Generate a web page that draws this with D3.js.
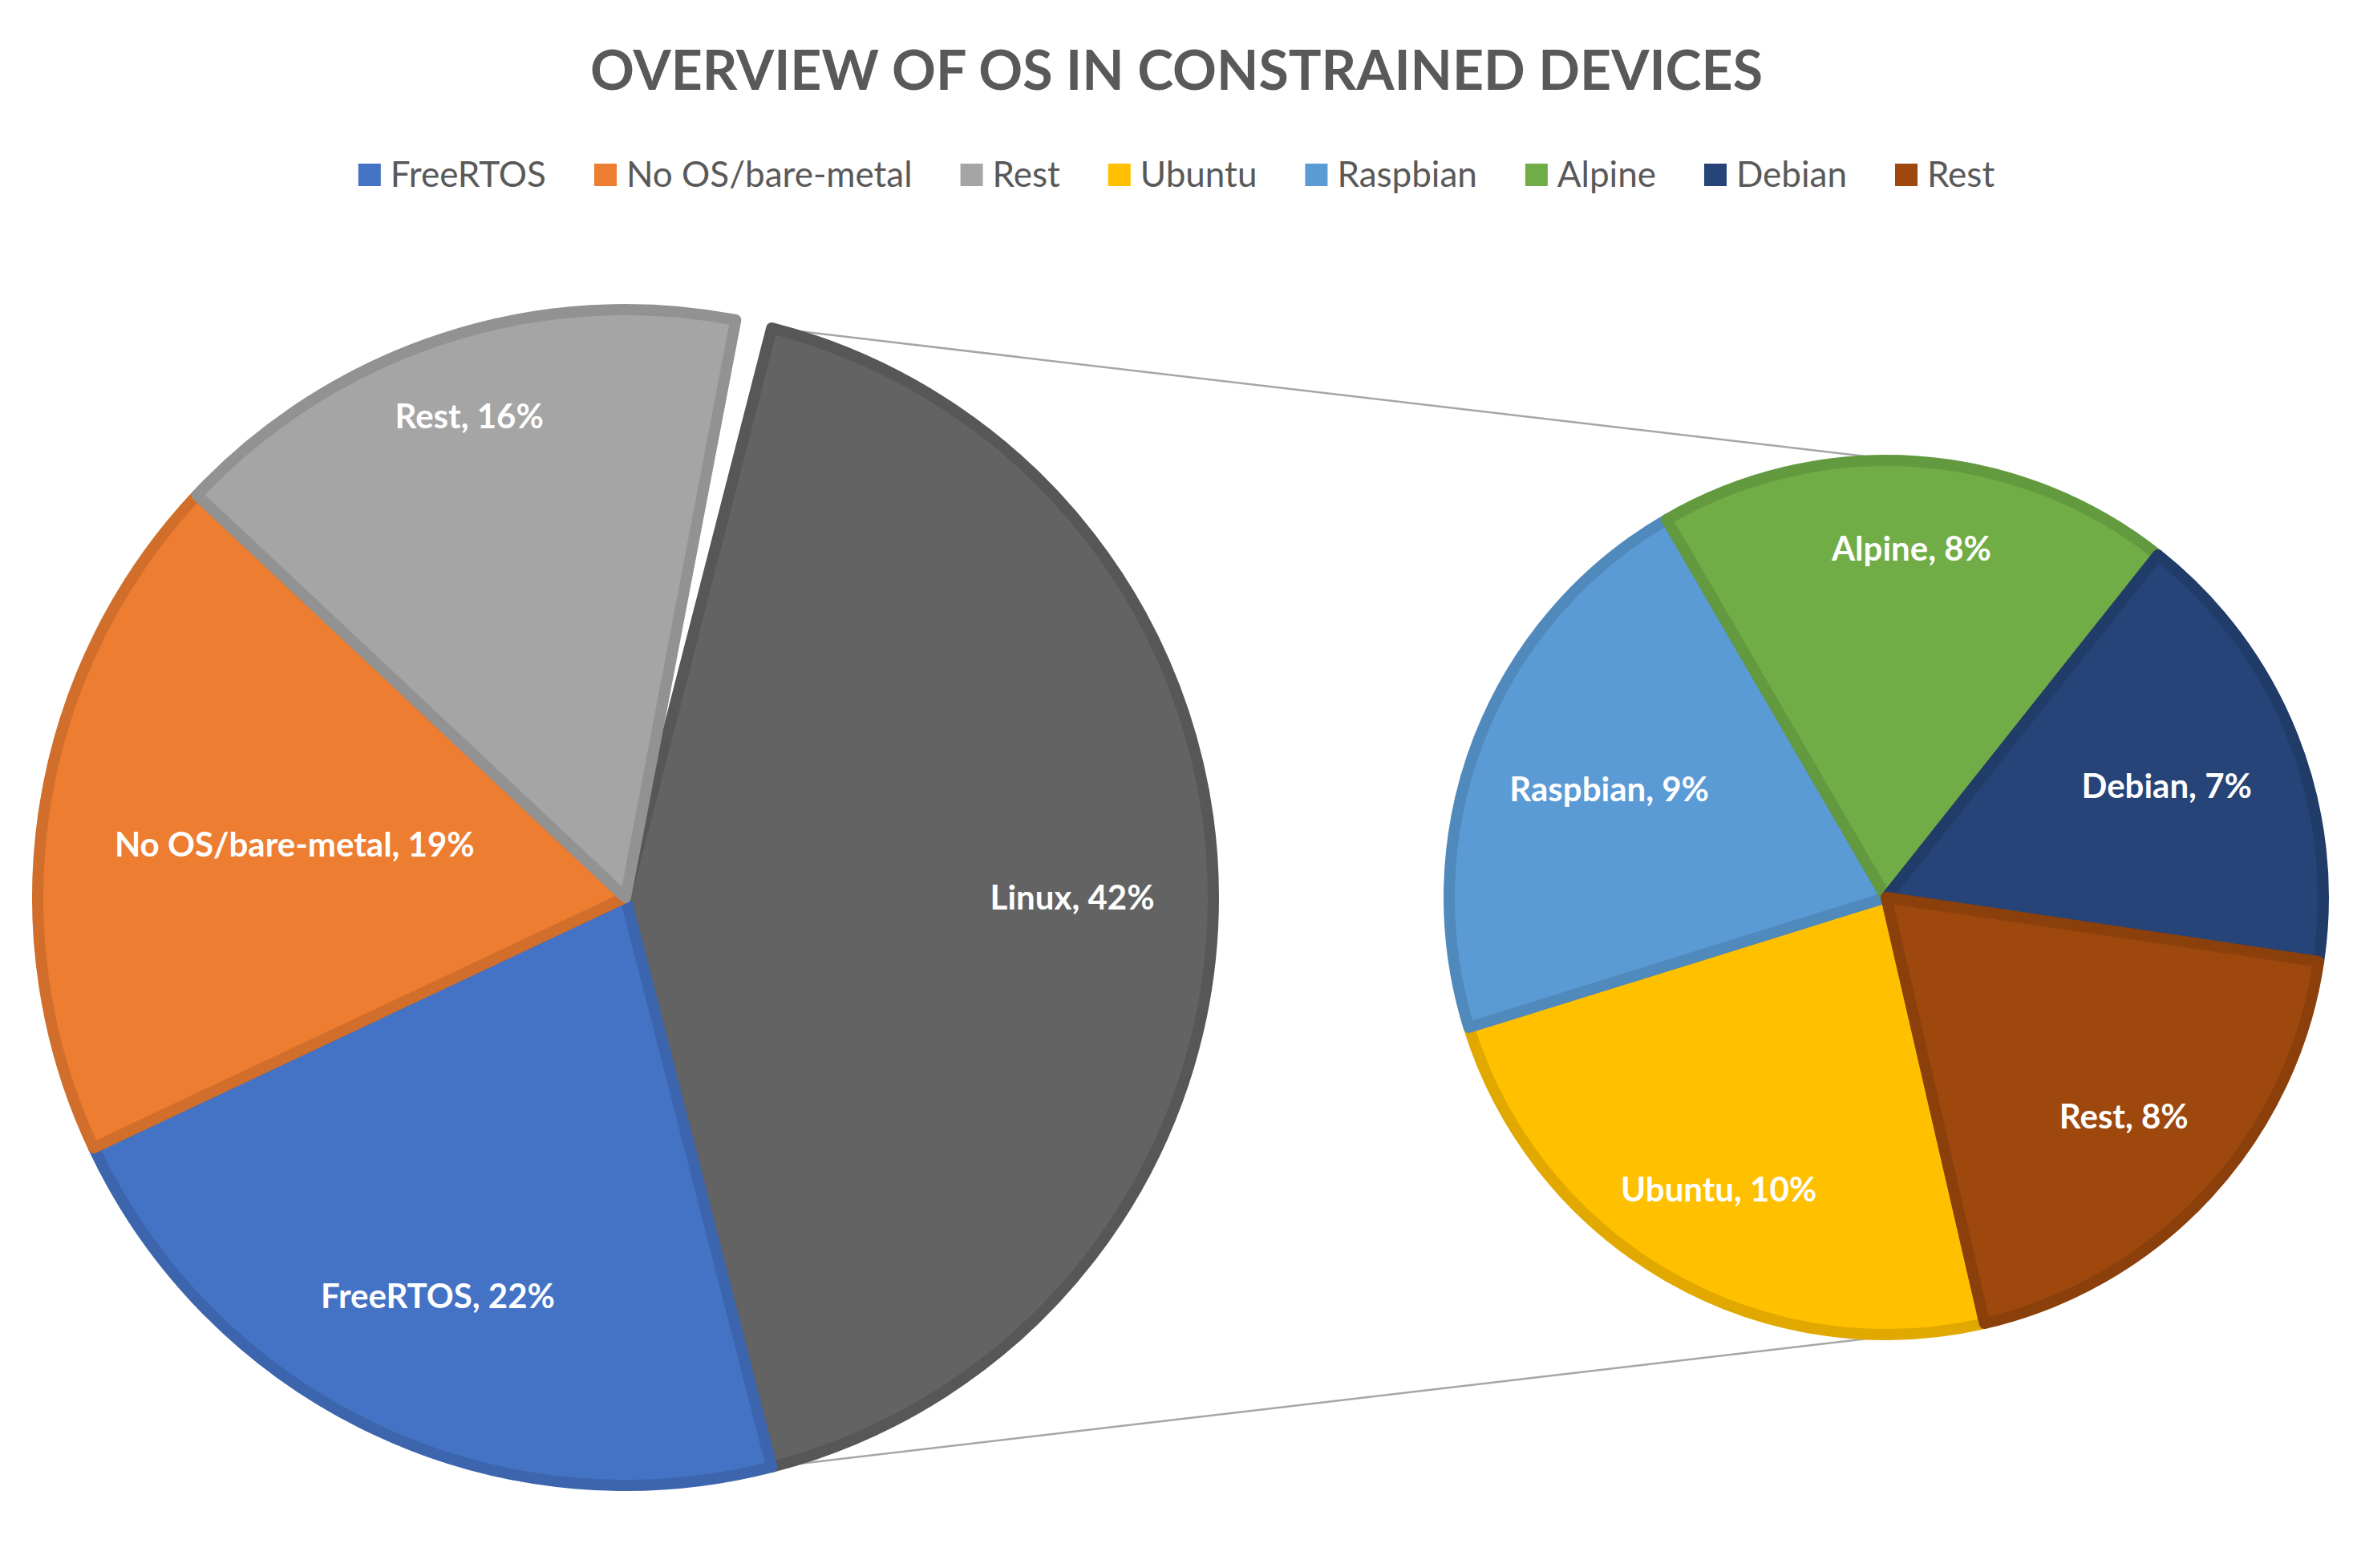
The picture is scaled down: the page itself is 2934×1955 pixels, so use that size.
<!DOCTYPE html>
<html>
<head>
<meta charset="utf-8">
<script src="https://cdn.jsdelivr.net/npm/d3@7"></script>
<style>
  body { margin: 0; background: #fff; }
  text { font-family: Lato, "Open Sans", sans-serif; }
</style>
</head>
<body>
<svg id="chart" width="2934" height="1955"></svg>
<script>
// main pie
var mainNames = ["Linux", "FreeRTOS", "No OS/bare-metal", "Rest"];
var mainValues = [42, 22, 19, 16];
var mainColors = ["#636363", "#4472C4", "#ED7D31", "#A5A5A5"];
// secondary pie (breakdown of Linux)
var subNames = ["Ubuntu", "Raspbian", "Alpine", "Debian", "Rest"];
var subValues = [10, 9, 8, 7, 8];
var subColors = ["#FFC000", "#5B9BD5", "#70AD47", "#264478", "#9E480E"];
// legend order as in the picture
var legendNames = ["FreeRTOS", "No OS/bare-metal", "Rest", "Ubuntu", "Raspbian", "Alpine", "Debian", "Rest"];
var legendColors = ["#4472C4", "#ED7D31", "#A5A5A5", "#FFC000", "#5B9BD5", "#70AD47", "#264478", "#9E480E"];

var svg = d3.select("#chart");
var deg = Math.PI / 180;

svg.append("text")
    .attr("x", 1467).attr("y", 112)
    .attr("text-anchor", "middle")
    .attr("font-size", 68).attr("font-weight", "bold")
    .attr("fill", "#595959")
    .text("OVERVIEW OF OS IN CONSTRAINED DEVICES");

// legend, measured then centred
var leg = svg.append("g");
var x = 0;
legendNames.forEach(function (n, i) {
    var g = leg.append("g").attr("transform", "translate(" + x + ",0)");
    g.append("rect").attr("x", 0).attr("y", -14).attr("width", 28).attr("height", 28).attr("fill", legendColors[i]);
    var t = g.append("text").attr("x", 40).attr("y", 15).attr("font-size", 44).attr("fill", "#595959").text(n);
    x += 40 + t.node().getComputedTextLength() + 60;
});
x -= 60;
leg.attr("transform", "translate(" + (1467 - x / 2) + ",218)");

// main pie
var mcx = 780, mcy = 1119, mr = 733;
var mainStart = 90 * deg - (mainValues[0] / 100) * Math.PI;
var mainPie = d3.pie().sort(null).startAngle(mainStart).endAngle(mainStart + 2 * Math.PI * d3.sum(mainValues) / 100);
var mainArcs = mainPie(mainValues);
var mainArc = d3.arc().innerRadius(0).outerRadius(mr);
var mainLabelR = [0.76, 0.75, 0.57, 0.86];

// secondary pie
var scx = 2352, scy = 1119, sr = 545;
var subPie = d3.pie().sort(null).startAngle(167 * deg).endAngle(167 * deg + 2 * Math.PI);
var subArcs = subPie(subValues);
var subArc = d3.arc().innerRadius(0).outerRadius(sr);
var subLabelR = [0.77, 0.68, 0.8, 0.69, 0.74];

// connector lines from Linux slice edges to the secondary pie
function pt(cx, cy, r, a) { return [cx + r * Math.sin(a), cy - r * Math.cos(a)]; }
var a0 = pt(mcx, mcy, mr, mainArcs[0].startAngle), a1 = pt(mcx, mcy, mr, mainArcs[0].endAngle);
var b0 = pt(scx, scy, sr, 2 * deg), b1 = pt(scx, scy, sr, 169 * deg);
svg.append("line").attr("x1", a0[0]).attr("y1", a0[1]).attr("x2", b0[0]).attr("y2", b0[1]).attr("stroke", "#A6A6A6").attr("stroke-width", 2.5);
svg.append("line").attr("x1", a1[0]).attr("y1", a1[1]).attr("x2", b1[0]).attr("y2", b1[1]).attr("stroke", "#A6A6A6").attr("stroke-width", 2.5);

function drawPie(cx, cy, arcs, arcGen, colors, names, values, labelR, r) {
    var g = svg.append("g").attr("transform", "translate(" + cx + "," + cy + ")");
    g.selectAll("path").data(arcs).enter().append("path")
        .attr("d", arcGen)
        .attr("fill", function (d, i) { return colors[i]; })
        .attr("stroke", function (d, i) { return d3.color(colors[i]).darker(0.35); })
        .attr("stroke-width", 14)
        .attr("stroke-linejoin", "round");
    g.selectAll("text").data(arcs).enter().append("text")
        .attr("transform", function (d, i) {
            var a = (d.startAngle + d.endAngle) / 2, rr = r * labelR[i];
            return "translate(" + (rr * Math.sin(a)) + "," + (-rr * Math.cos(a)) + ")";
        })
        .attr("text-anchor", "middle").attr("dy", "0.35em")
        .attr("font-size", 42).attr("font-weight", "bold").attr("fill", "#fff")
        .text(function (d, i) { return names[i] + ", " + values[i] + "%"; });
}
drawPie(mcx, mcy, mainArcs, mainArc, mainColors, mainNames, mainValues, mainLabelR, mr);
drawPie(scx, scy, subArcs, subArc, subColors, subNames, subValues, subLabelR, sr);
</script>
</body>
</html>
